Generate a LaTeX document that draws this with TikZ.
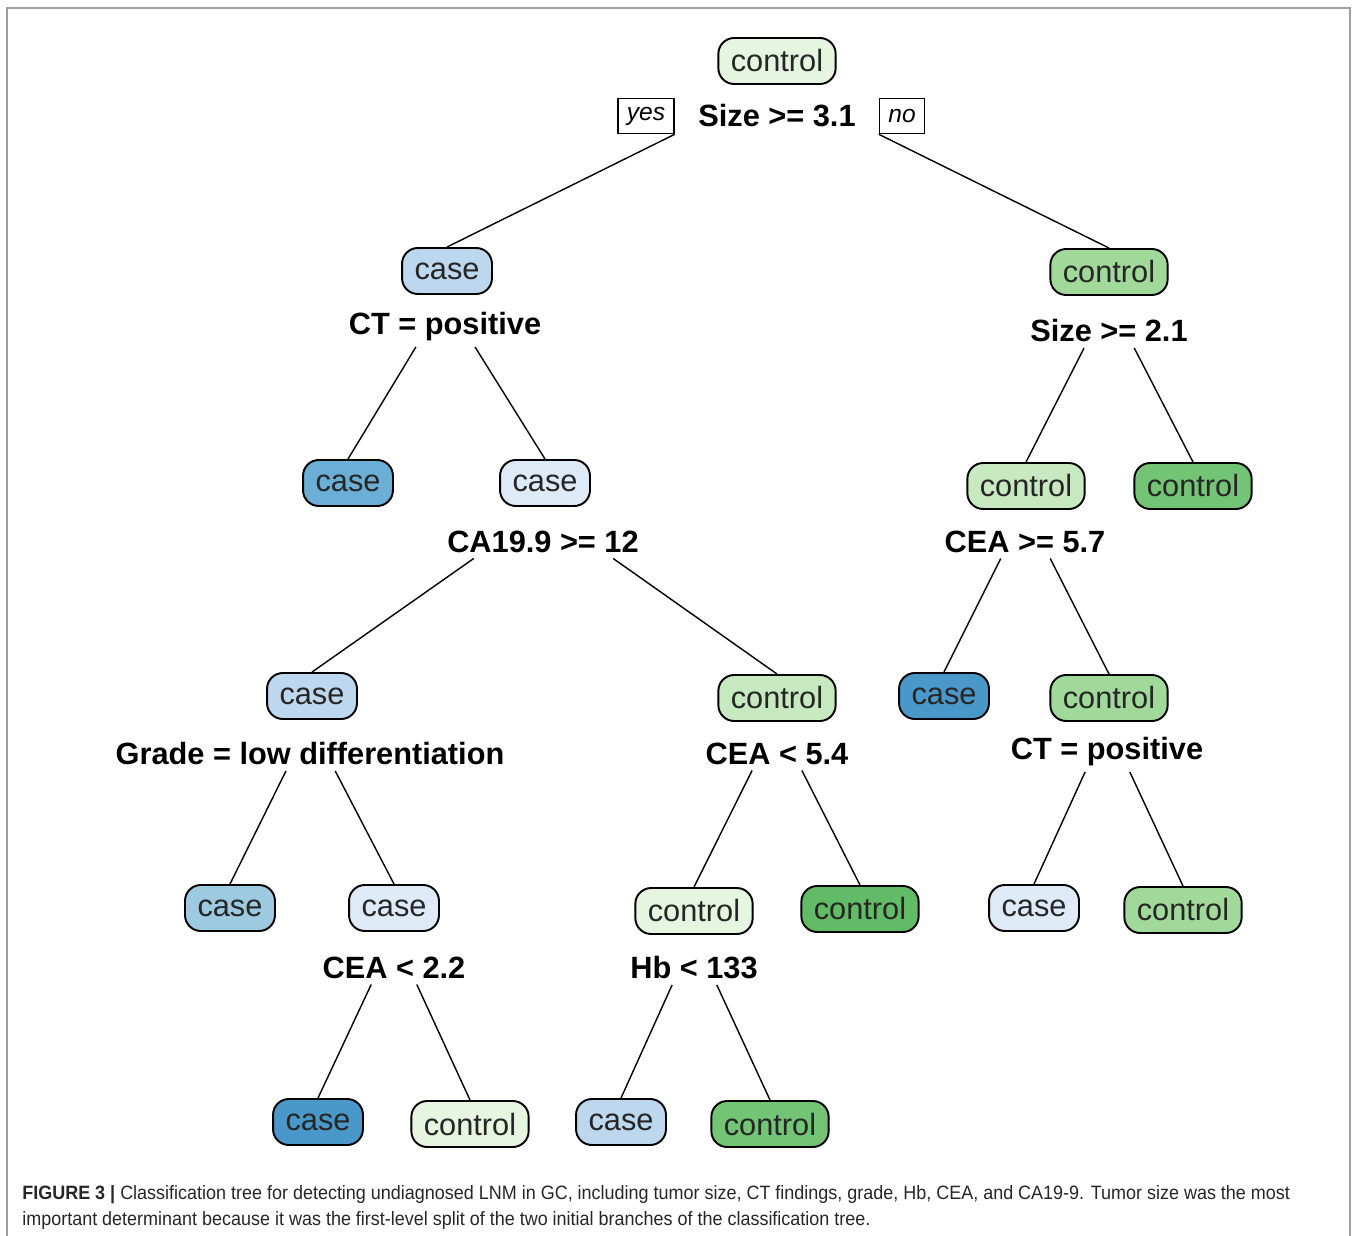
\documentclass[tikz,border=0pt]{standalone}
\usepackage{fontspec}
\setmainfont{Liberation Sans}
\newfontfamily\capfont[FakeStretch=0.93]{Liberation Sans}
\usetikzlibrary{calc}

\definecolor{grnA}{HTML}{E5F5E0}
\definecolor{grnB}{HTML}{C7E9C0}
\definecolor{grnC}{HTML}{A1D99B}
\definecolor{grnD}{HTML}{74C476}
\definecolor{grnE}{HTML}{62BB66}
\definecolor{bluA}{HTML}{DEEBF7}
\definecolor{bluB}{HTML}{BDD7EE}
\definecolor{bluC}{HTML}{9ECAE1}
\definecolor{bluD}{HTML}{6BAED6}
\definecolor{bluE}{HTML}{4A98C9}

\tikzset{
  leaf/.style={draw=black, line width=1.1pt, rounded corners=9pt, minimum height=0.92cm,
    inner xsep=0.25cm, font=\fontsize{17.5}{20}\selectfont, text=black!85},
  split/.style={font=\fontsize{17.5}{20}\selectfont\bfseries, inner sep=3pt},
  yesno/.style={draw, line width=0.9pt, font=\fontsize{14}{16}\selectfont\itshape,
    minimum height=0.7cm, inner xsep=5pt},
  edge/.style={line width=0.8pt}
}
\newcommand{\branch}[2]{\path ($(#1)!.3!(#2)$) coordinate (bstart);
  \draw[edge] (bstart |- #1.south) -- (#2.north);}

\begin{document}
\begin{tikzpicture}[x=0.02cm, y=-0.02cm]
\useasboundingbox (0,0) rectangle (1358,1236);
\draw[gray!75, line width=1.2pt] (7,1236) -- (7,8) -- (1350,8) -- (1350,1236);

\node[leaf, fill=grnA] (root) at (777,61) {control};
\node[split] (sz31) at (777,116) {Size >= 3.1};
\node[yesno] (yesbox) at (646,116) {yes};
\node[yesno] (nobox) at (902,116) {no};

\node[leaf, fill=bluB] (caseA) at (447,271) {case};
\node[split] (ctA) at (445,327) {CT = positive};
\node[leaf, fill=grnC] (ctrlB) at (1109,272) {control};
\node[split] (sz21) at (1109,331) {Size >= 2.1};

\node[leaf, fill=bluD] (caseC) at (348,483) {case};
\node[leaf, fill=bluA] (caseD) at (545,483) {case};
\node[split] (ca199) at (543,542) {CA19.9 >= 12};
\node[leaf, fill=grnB] (ctrlO) at (1026,486) {control};
\node[split] (cea57) at (1025,542) {CEA >= 5.7};
\node[leaf, fill=grnD] (ctrlP) at (1193,486) {control};

\node[leaf, fill=bluB] (caseE) at (312,696) {case};
\node[split] (grade) at (310,754) {Grade = low differentiation};
\node[leaf, fill=grnB] (ctrlF) at (777,698) {control};
\node[split] (cea54) at (777,754) {CEA < 5.4};
\node[leaf, fill=bluE] (caseQ) at (944,696) {case};
\node[leaf, fill=grnC] (ctrlR) at (1109,698) {control};
\node[split] (ctB) at (1107,752) {CT = positive};

\node[leaf, fill=bluC] (caseG) at (230,908) {case};
\node[leaf, fill=bluA] (caseH) at (394,908) {case};
\node[split] (cea22) at (394,968) {CEA < 2.2};
\node[leaf, fill=grnA] (ctrlK) at (694,911) {control};
\node[split] (hb133) at (694,968) {Hb < 133};
\node[leaf, fill=grnE] (ctrlL) at (860,909) {control};
\node[leaf, fill=bluA] (caseS) at (1034,908) {case};
\node[leaf, fill=grnC] (ctrlT) at (1183,910) {control};

\node[leaf, fill=bluE] (caseI) at (318,1122) {case};
\node[leaf, fill=grnA] (ctrlJ) at (470,1124) {control};
\node[leaf, fill=bluB] (caseM) at (621,1122) {case};
\node[leaf, fill=grnD] (ctrlN) at (770,1124) {control};

\draw[edge] (yesbox.south east) -- (caseA.north);
\draw[edge] (nobox.south west) -- (ctrlB.north);
\branch{ctA}{caseC}
\branch{ctA}{caseD}
\branch{sz21}{ctrlO}
\branch{sz21}{ctrlP}
\branch{ca199}{caseE}
\branch{ca199}{ctrlF}
\branch{cea57}{caseQ}
\branch{cea57}{ctrlR}
\branch{grade}{caseG}
\branch{grade}{caseH}
\branch{cea54}{ctrlK}
\branch{cea54}{ctrlL}
\branch{ctB}{caseS}
\branch{ctB}{ctrlT}
\branch{cea22}{caseI}
\branch{cea22}{ctrlJ}
\branch{hb133}{caseM}
\branch{hb133}{ctrlN}

\node[anchor=north west, align=left, inner sep=0pt, text=black!85,
  font=\capfont\fontsize{11}{14.7}\selectfont] (caption) at (22,1185)
  {\textbf{FIGURE 3 |} Classification tree for detecting undiagnosed LNM in GC, including tumor size, CT findings, grade, Hb, CEA, and CA19-9. Tumor size was the most\\
  important determinant because it was the first-level split of the two initial branches of the classification tree.};
\end{tikzpicture}
\end{document}
